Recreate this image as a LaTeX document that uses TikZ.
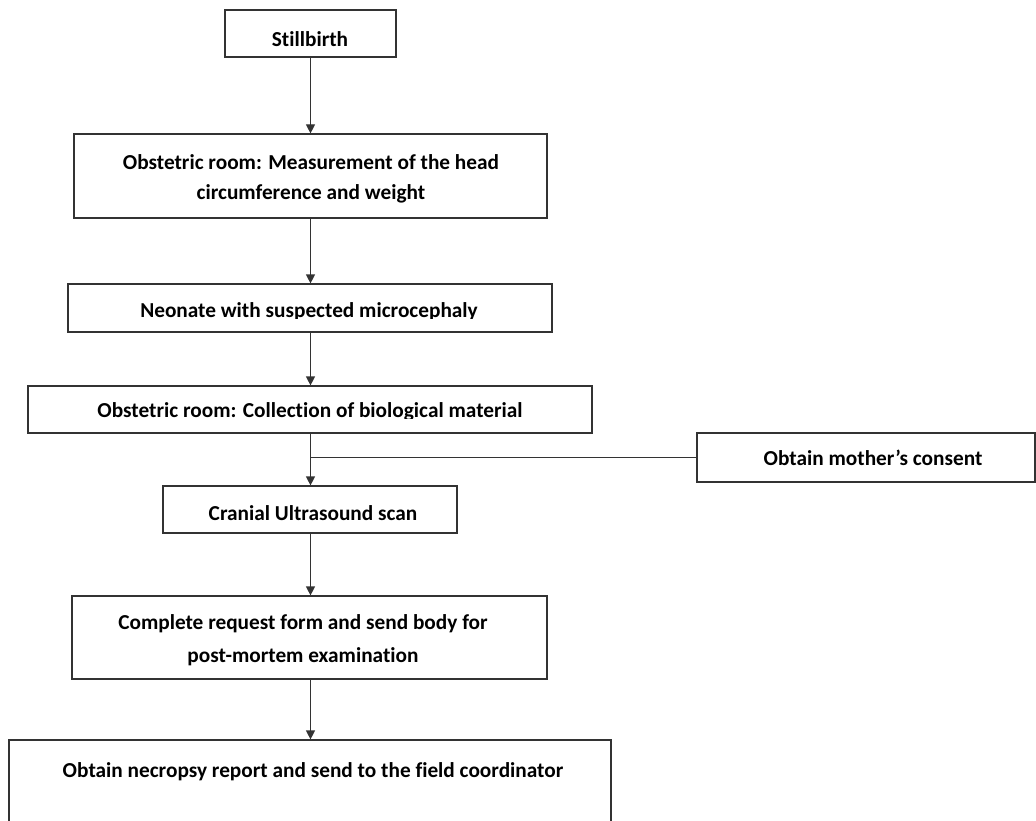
\documentclass[tikz,border=0pt]{standalone}
\usepackage{fontspec}
\setmainfont{Carlito}[Ligatures=CommonOff]
\usetikzlibrary{arrows.meta}
\definecolor{linec}{HTML}{333333}
\begin{document}
\begin{tikzpicture}[x=1pt,y=-1pt,
  box/.style={draw=linec, line width=1.2pt, inner sep=0pt, rectangle},
  txt/.style={font=\bfseries\fontsize{21.3}{25}\selectfont, inner sep=0pt, anchor=base, text=black},
  link/.style={draw=linec, line width=1.2pt},
  arr/.style={link, -{Triangle[width=9pt,length=9pt]}}]
\useasboundingbox (0,0) rectangle (1036,821);
\clip (0,0) rectangle (1036,821);
% boxes
\node[box, minimum width=171pt, minimum height=47pt] (b1) at (310.5,33.5) {};
\node[box, minimum width=473pt, minimum height=84pt] (b2) at (310.5,176) {};
\node[box, minimum width=484pt, minimum height=48pt] (b3) at (310,308) {};
\node[box, minimum width=564pt, minimum height=47pt] (b4) at (310,409.5) {};
\node[box, minimum width=338pt, minimum height=49pt] (b5) at (866,457.5) {};
\node[box, minimum width=294pt, minimum height=47pt] (b6) at (310,509.5) {};
\node[box, minimum width=475pt, minimum height=83pt] (b7) at (309.5,637.5) {};
\node[box, minimum width=602pt, minimum height=110pt] (b8) at (310,795) {};
% texts
\node[txt] (t1) at (310,47) {Stillbirth};
\node[txt] (t2a) at (311,170) {Obstetric room: Measurement of the head};
\node[txt] (t2b) at (311,200) {circumference and weight};
\begin{scope}
\clip (b3.north west) rectangle (552,318);
\node[txt] (t3) at (309,317) {Neonate with suspected microcephaly};
\end{scope}
\begin{scope}
\clip (b4.north west) rectangle (592,418.5);
\node[txt] (t4) at (310,417) {Obstetric room: Collection of biological material};
\end{scope}
\node[txt] (t5) at (873,465) {Obtain mother’s consent};
\node[txt] (t6) at (313,520) {Cranial Ultrasound scan};
\node[txt] (t7a) at (303,629) {Complete request form and send body for};
\node[txt] (t7b) at (303,662) {post-mortem examination};
\node[txt] (t8) at (313,777) {Obtain necropsy report and send to the field coordinator};
% connectors
\draw[arr] (b1.south) -- (b1.south |- b2.north);
\draw[arr] (b1.south |- b2.south) -- (b1.south |- b3.north);
\draw[arr] (b1.south |- b3.south) -- (b1.south |- b4.north);
\draw[arr] (b1.south |- b4.south) -- (b1.south |- b6.north);
\coordinate (j) at (b1.south |- b5.west);
\draw[link] (j) -- (b5.west);
\draw[arr] (b1.south |- b6.south) -- (b1.south |- b7.north);
\draw[arr] (b1.south |- b7.south) -- (b1.south |- b8.north);
\end{tikzpicture}
\end{document}
